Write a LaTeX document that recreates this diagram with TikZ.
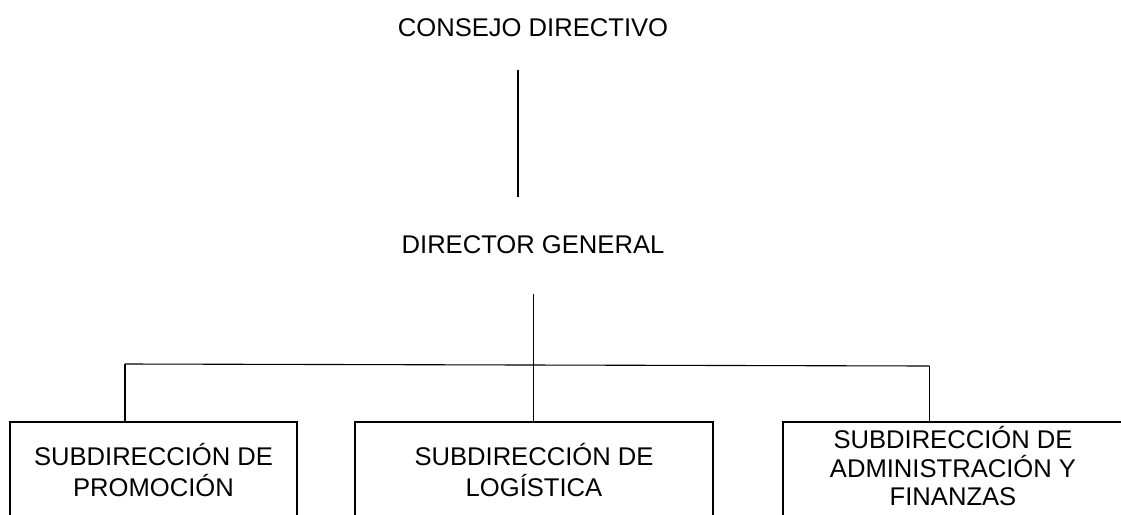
\documentclass[tikz,border=0pt]{standalone}
\usepackage{fontspec}
\setmainfont{Liberation Sans}
\begin{document}
\begin{tikzpicture}[x=1pt,y=-1pt,
  title/.style={anchor=base,inner sep=0pt,font=\fontsize{25.6}{31}\selectfont},
  unitbox/.style={draw,line width=2pt,anchor=north,align=center,inner sep=0pt,font=\fontsize{25.6}{31}\selectfont},
  conn/.style={line width=1.1pt}]
\useasboundingbox[fill=white] (0,0) rectangle (1121,514);
\node[title] (cd) at (533,36) {CONSEJO DIRECTIVO};
\node[title] (dg) at (533,253) {DIRECTOR GENERAL};
\node[unitbox,minimum width=287pt,minimum height=96pt] (sp) at (153.5,421) {SUBDIRECCIÓN DE\\PROMOCIÓN};
\node[unitbox,minimum width=358pt,minimum height=96pt] (sl) at (534,421) {SUBDIRECCIÓN DE\\LOGÍSTICA};
\node[unitbox,minimum width=340pt,minimum height=104pt,text depth=16pt,font=\fontsize{25.6}{28.5}\selectfont] (sa) at (953,421) {SUBDIRECCIÓN DE\\ADMINISTRACIÓN Y\\FINANZAS};
\coordinate (c1) at (518,70);
\coordinate (c2) at (518,197);
\coordinate (d1) at (533.3,294);
\coordinate (hl) at (125,364);
\coordinate (hr) at (929.3,366);
\draw[conn] (c1) -- (c2);
\draw[conn] (d1) -- (d1 |- sl.north);
\draw[conn] (hl) -- (hr);
\draw[conn] (hl) -- (hl |- sp.north);
\draw[conn] (hr) -- (hr |- sa.north);
\end{tikzpicture}
\end{document}
